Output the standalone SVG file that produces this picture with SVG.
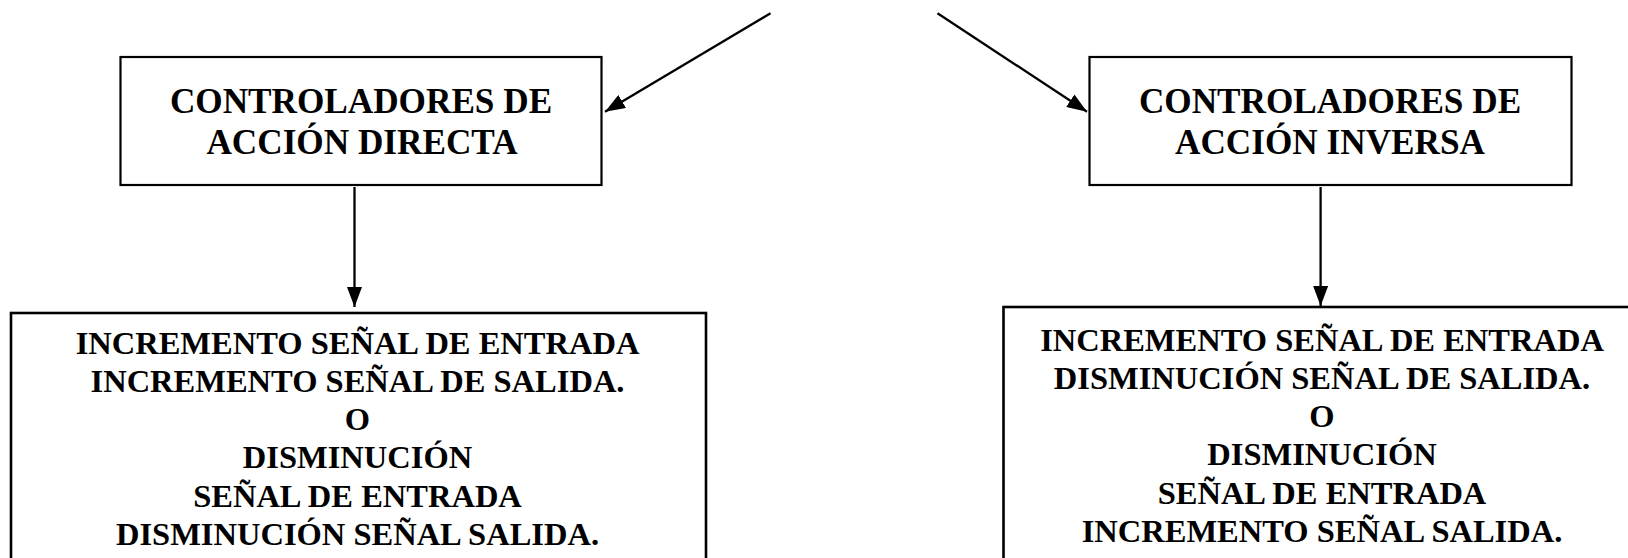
<svg xmlns="http://www.w3.org/2000/svg" width="1628" height="558" viewBox="0 0 1628 558">
<style>
.box{fill:#fff;stroke:#000;stroke-width:2.2}
.box2{fill:#fff;stroke:#000;stroke-width:2.6}
.t1{font-family:"Liberation Serif","Times New Roman",serif;font-weight:bold;font-size:35.2px;text-anchor:middle;fill:#000}
.t2{font-family:"Liberation Serif","Times New Roman",serif;font-weight:bold;font-size:32.5px;text-anchor:middle;fill:#000}
.edge{stroke:#000;stroke-width:2.3;fill:none;marker-end:url(#ah)}
</style>
<defs>
<marker id="ah" viewBox="0 0 20 15" refX="20" refY="7.5" markerWidth="20" markerHeight="15" markerUnits="userSpaceOnUse" orient="auto">
<path d="M0,0 L20,7.5 L0,15 z" fill="#000"/>
</marker>
</defs>
<rect width="1628" height="558" fill="#fff"/>
<g id="directa">
<rect class="box" x="120.5" y="57" width="481" height="128"/>
<text class="t1" x="361" y="112.5">CONTROLADORES DE</text>
<text class="t1" x="362" y="154">ACCIÓN DIRECTA</text>
</g>
<g id="inversa">
<rect class="box" x="1089.5" y="57" width="482" height="128"/>
<text class="t1" x="1330" y="112.5">CONTROLADORES DE</text>
<text class="t1" x="1330" y="154">ACCIÓN INVERSA</text>
</g>
<g id="efecto-directa">
<rect class="box2" x="11" y="313" width="695" height="260"/>
<text class="t2" x="357.5" y="353.5">INCREMENTO SEÑAL DE ENTRADA</text>
<text class="t2" x="357.5" y="391.8">INCREMENTO SEÑAL DE SALIDA.</text>
<text class="t2" x="357.5" y="430.1">O</text>
<text class="t2" x="357.5" y="468.4">DISMINUCIÓN</text>
<text class="t2" x="357.5" y="506.7">SEÑAL DE ENTRADA</text>
<text class="t2" x="357.5" y="545">DISMINUCIÓN SEÑAL SALIDA.</text>
</g>
<g id="efecto-inversa">
<rect class="box2" x="1003.5" y="307" width="660" height="266"/>
<text class="t2" x="1322" y="350.5">INCREMENTO SEÑAL DE ENTRADA</text>
<text class="t2" x="1322" y="388.8">DISMINUCIÓN SEÑAL DE SALIDA.</text>
<text class="t2" x="1322" y="427.1">O</text>
<text class="t2" x="1322" y="465.4">DISMINUCIÓN</text>
<text class="t2" x="1322" y="503.7">SEÑAL DE ENTRADA</text>
<text class="t2" x="1322" y="542">INCREMENTO SEÑAL SALIDA.</text>
</g>
<g id="connectors">
<line class="edge" x1="770.5" y1="13.3" x2="605" y2="111.7"/>
<line class="edge" x1="937.5" y1="13.3" x2="1087" y2="111.7"/>
<line class="edge" x1="354.5" y1="187" x2="354.5" y2="307"/>
<line class="edge" x1="1320.6" y1="187" x2="1320.6" y2="306"/>
</g>
</svg>
